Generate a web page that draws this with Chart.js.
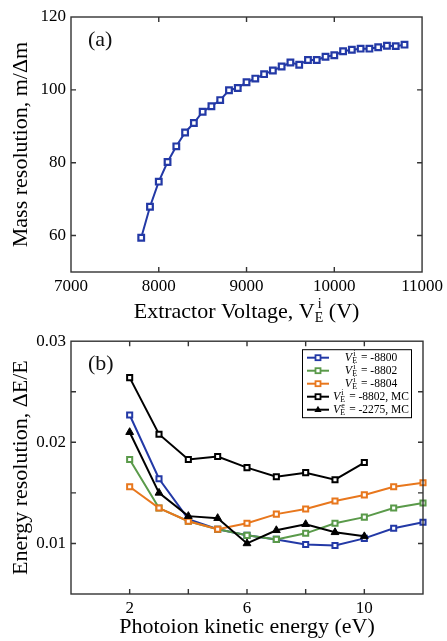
<!DOCTYPE html>
<html>
<head>
<meta charset="utf-8">
<script src="https://cdn.jsdelivr.net/npm/chart.js@4/dist/chart.umd.min.js"></script>
<style>
  html, body { margin: 0; padding: 0; background: #fff; }
  #wrap { position: relative; width: 447px; height: 641px; }
  #wrap canvas { position: absolute; left: 0; }
</style>
</head>
<body>
<div id="wrap">
  <canvas id="massChart" width="447" height="326" style="top:0"></canvas>
  <canvas id="energyChart" width="447" height="315" style="top:326px"></canvas>
</div>
<script>
// (a) mass resolution vs extractor voltage
const extractorVoltages = [7800, 7900, 8000, 8100, 8200, 8300, 8400, 8500, 8600, 8700,
    8800, 8900, 9000, 9100, 9200, 9300, 9400, 9500, 9600, 9700,
    9800, 9900, 10000, 10100, 10200, 10300, 10400, 10500, 10600, 10700, 10800];
const massResolution = [59.4, 67.9, 74.8, 80.2, 84.5, 88.3, 90.9, 94.0, 95.5, 97.2,
    99.9, 100.5, 102.1, 103.1, 104.3, 105.3, 106.4, 107.5, 106.9, 108.2,
    108.2, 109.1, 109.5, 110.6, 111.0, 111.3, 111.3, 111.7, 112.1, 112.0, 112.4];
const voltageTicks = [7000, 8000, 9000, 10000, 11000];
const massTicks = [60, 80, 100, 120];

// (b) energy resolution vs photoion kinetic energy
const energies = [2, 3, 4, 5, 6, 7, 8, 9, 10, 11, 12];
const res8800 = [0.0227, 0.0164, 0.0124, 0.0114, 0.0108, 0.0104, 0.0099, 0.0098, 0.0105, 0.0115, 0.0121];
const res8802 = [0.0183, 0.0135, 0.0122, 0.0114, 0.0108, 0.0104, 0.0110, 0.0120, 0.0126, 0.0135, 0.0140];
const res8804 = [0.0156, 0.0135, 0.0122, 0.0114, 0.0120, 0.0129, 0.0134, 0.0142, 0.0148, 0.0156, 0.0160];
const mcEnergies = [2, 3, 4, 5, 6, 7, 8, 9, 10];
const res8802MC = [0.0264, 0.0208, 0.0183, 0.0186, 0.0175, 0.0166, 0.0170, 0.0163, 0.0180];
const res2275MC = [0.0210, 0.0150, 0.0127, 0.0125, 0.0100, 0.0113, 0.0119, 0.0111, 0.0107];
const energyTicks = [2, 4, 6, 8, 10];
const energyTickLabels = [2, 6, 10];
const resTicks = [0.01, 0.015, 0.02, 0.025, 0.03];
const resTickLabels = [0.01, 0.02, 0.03];
const legendSup = ["i", "i", "i", "i", "e"];
const legendValue = ["-8800", "-8802", "-8804", "-8802, MC", "-2275, MC"];

const SERIF = '"Liberation Serif", "Times New Roman", serif';
const BLUE = "#2339a6";
const GREEN = "#5a9a4a";
const ORANGE = "#e8771d";
const BLACK = "#000000";

Chart.defaults.font.family = SERIF;
Chart.defaults.color = "#000";

const pts = (xs, ys) => xs.map((x, i) => ({ x: x, y: ys[i] }));

// frame with inward ticks on all four sides, plus the panel letter
const framePlugin = {
    id: "frame",
    afterDraw(chart, args, opts) {
        const { ctx, chartArea: a, scales } = chart;
        const len = 5;
        ctx.save();
        ctx.strokeStyle = "#333";
        ctx.lineWidth = 1.4;
        ctx.beginPath();
        scales.x.ticks.forEach((t) => {
            const px = scales.x.getPixelForValue(t.value);
            if (px <= a.left + 1 || px >= a.right - 1) return;
            ctx.moveTo(px, a.bottom); ctx.lineTo(px, a.bottom - len);
            ctx.moveTo(px, a.top); ctx.lineTo(px, a.top + len);
        });
        scales.y.ticks.forEach((t) => {
            const py = scales.y.getPixelForValue(t.value);
            if (py <= a.top + 1 || py >= a.bottom - 1) return;
            ctx.moveTo(a.left, py); ctx.lineTo(a.left + len, py);
            ctx.moveTo(a.right, py); ctx.lineTo(a.right - len, py);
        });
        ctx.stroke();
        ctx.strokeRect(a.left, a.top, a.width, a.height);
        ctx.fillStyle = "#111";
        ctx.font = "22px " + SERIF;
        ctx.textBaseline = "alphabetic";
        ctx.fillText(opts.panel, a.left + 17, a.top + 29);
        ctx.restore();
    },
};

// x title of panel (a): Extractor Voltage, V_E^i (V)
const voltageTitlePlugin = {
    id: "voltageTitle",
    afterDraw(chart) {
        const { ctx, chartArea: a } = chart;
        const big = "22px " + SERIF;
        const small = "14px " + SERIF;
        ctx.save();
        ctx.fillStyle = "#000";
        ctx.textBaseline = "alphabetic";
        ctx.font = big;
        const w1 = ctx.measureText("Extractor Voltage, V").width;
        const w3 = ctx.measureText(" (V)").width;
        ctx.font = small;
        const w2 = Math.max(ctx.measureText("E").width, ctx.measureText("i").width + 3);
        let x = (a.left + a.right) / 2 - (w1 + w2 + w3) / 2;
        const y = 318;
        ctx.font = big;
        ctx.fillText("Extractor Voltage, V", x, y);
        x += w1;
        ctx.font = small;
        ctx.fillText("E", x, y + 4);
        ctx.fillText("i", x + 3, y - 10);
        x += w2;
        ctx.font = big;
        ctx.fillText(" (V)", x, y);
        ctx.restore();
    },
};

// legend of panel (b), labels V_E^x = value
const legendPlugin = {
    id: "seriesLegend",
    afterDraw(chart) {
        const { ctx, chartArea: a } = chart;
        const w = 109, h = 68;
        const x0 = a.right - 12 - w, y0 = a.top + 8;
        ctx.save();
        ctx.fillStyle = "#fff";
        ctx.fillRect(x0, y0, w, h);
        ctx.strokeStyle = "#000";
        ctx.lineWidth = 1;
        ctx.strokeRect(x0 + 0.5, y0 + 0.5, w, h);
        chart.data.datasets.forEach((ds, i) => {
            const cy = y0 + 8.5 + i * 13;
            const mx = x0 + 16;
            ctx.strokeStyle = ds.borderColor;
            ctx.lineWidth = 2;
            ctx.beginPath();
            ctx.moveTo(x0 + 5, cy); ctx.lineTo(x0 + 27, cy);
            ctx.stroke();
            if (ds.pointStyle === "triangle") {
                ctx.fillStyle = ds.borderColor;
                ctx.beginPath();
                ctx.moveTo(mx, cy - 4); ctx.lineTo(mx + 3.6, cy + 2.2); ctx.lineTo(mx - 3.6, cy + 2.2);
                ctx.closePath();
                ctx.fill();
            } else {
                ctx.fillStyle = "#fff";
                ctx.lineWidth = 1.8;
                ctx.fillRect(mx - 2.5, cy - 2.5, 5, 5);
                ctx.strokeRect(mx - 2.5, cy - 2.5, 5, 5);
            }
            // text
            const fV = "italic 12px " + SERIF, fS = "8px " + SERIF, fR = "11.5px " + SERIF;
            const rest = " = " + legendValue[i];
            ctx.font = fV; const wV = ctx.measureText("V").width;
            ctx.font = fS; const wS = Math.max(ctx.measureText("E").width, ctx.measureText(legendSup[i]).width + 1) + 1;
            ctx.font = fR; const wR = ctx.measureText(rest).width;
            let tx = x0 + 69 - (wV + wS + wR) / 2;
            const base = cy + 3.5;
            ctx.fillStyle = "#000";
            ctx.font = fV; ctx.fillText("V", tx, base); tx += wV;
            ctx.font = fS; ctx.fillText("E", tx, base + 2); ctx.fillText(legendSup[i], tx + 1, base - 5); tx += wS;
            ctx.font = fR; ctx.fillText(rest, tx, base);
        });
        ctx.restore();
    },
};

const tickFont = { family: SERIF, size: 17 };
const titleFont = { family: SERIF, size: 22 };

new Chart(document.getElementById("massChart"), {
    type: "line",
    data: {
        datasets: [
            {
                label: "Mass resolution",
                data: pts(extractorVoltages, massResolution),
                borderColor: BLUE,
                borderWidth: 2,
                pointStyle: "rect",
                pointRadius: 4,
                pointBorderWidth: 2.2,
                pointBorderColor: BLUE,
                pointBackgroundColor: "#fff",
                clip: false,
            },
        ],
    },
    options: {
        responsive: false,
        animation: false,
        layout: { padding: { top: 17, right: 24, left: 0, bottom: 0 } },
        plugins: {
            legend: { display: false },
            tooltip: { enabled: false },
            frame: { panel: "(a)" },
        },
        scales: {
            x: {
                type: "linear",
                min: 7000,
                max: 11000,
                grid: { display: false, drawTicks: false },
                border: { display: false },
                afterBuildTicks: (s) => { s.ticks = voltageTicks.map((v) => ({ value: v })); },
                afterFit: (s) => { s.height = 54; },
                ticks: { font: tickFont, color: "#000", padding: 4, maxRotation: 0, autoSkip: false, callback: (v) => String(v) },
            },
            y: {
                min: 50,
                max: 120,
                grid: { display: false, drawTicks: false },
                border: { display: false },
                afterBuildTicks: (s) => { s.ticks = massTicks.map((v) => ({ value: v })); },
                afterFit: (s) => { s.width = 71; },
                ticks: { font: tickFont, color: "#000", padding: 5, callback: (v) => String(v) },
                title: { display: true, text: "Mass resolution, m/Δm", font: titleFont, color: "#000", padding: { top: 8, bottom: 0 } },
            },
        },
    },
    plugins: [framePlugin, voltageTitlePlugin],
});

const seriesStyle = (color, style, order) => ({
    borderColor: color,
    borderWidth: 2,
    pointStyle: style,
    pointRadius: style === "triangle" ? 4.5 : 3.6,
    pointBorderWidth: style === "triangle" ? 1 : 2,
    pointBorderColor: color,
    pointBackgroundColor: style === "triangle" ? color : "#fff",
    clip: false,
    order: order,
});

new Chart(document.getElementById("energyChart"), {
    type: "line",
    data: {
        datasets: [
            { label: "V_E^i = -8800", data: pts(energies, res8800), ...seriesStyle(BLUE, "rect", 5) },
            { label: "V_E^i = -8802", data: pts(energies, res8802), ...seriesStyle(GREEN, "rect", 4) },
            { label: "V_E^i = -8804", data: pts(energies, res8804), ...seriesStyle(ORANGE, "rect", 3) },
            { label: "V_E^i = -8802, MC", data: pts(mcEnergies, res8802MC), ...seriesStyle(BLACK, "rect", 2) },
            { label: "V_E^e = -2275, MC", data: pts(mcEnergies, res2275MC), ...seriesStyle(BLACK, "triangle", 1) },
        ],
    },
    options: {
        responsive: false,
        animation: false,
        layout: { padding: { top: 12, right: 24, left: 0, bottom: 0 } },
        plugins: {
            legend: { display: false },
            tooltip: { enabled: false },
            frame: { panel: "(b)" },
        },
        scales: {
            x: {
                type: "linear",
                min: 0,
                max: 12,
                grid: { display: false, drawTicks: false },
                border: { display: false },
                afterBuildTicks: (s) => { s.ticks = energyTicks.map((v) => ({ value: v })); },
                afterFit: (s) => { s.height = 47; },
                ticks: {
                    font: tickFont, color: "#000", padding: 4, maxRotation: 0, autoSkip: false,
                    callback: (v) => (energyTickLabels.includes(v) ? String(v) : ""),
                },
                title: { display: true, text: "Photoion kinetic energy (eV)", font: titleFont, color: "#000", padding: { top: 0, bottom: 1 } },
            },
            y: {
                min: 0.005,
                max: 0.03,
                grid: { display: false, drawTicks: false },
                border: { display: false },
                afterBuildTicks: (s) => { s.ticks = resTicks.map((v) => ({ value: v })); },
                afterFit: (s) => { s.width = 71; },
                ticks: {
                    font: tickFont, color: "#000", padding: 5,
                    callback: (v) => (resTickLabels.includes(v) ? String(v) : ""),
                },
                title: { display: true, text: "Energy resolution, ΔE/E", font: titleFont, color: "#000", padding: { top: 8, bottom: 0 } },
            },
        },
    },
    plugins: [framePlugin, legendPlugin],
});
</script>
</body>
</html>
